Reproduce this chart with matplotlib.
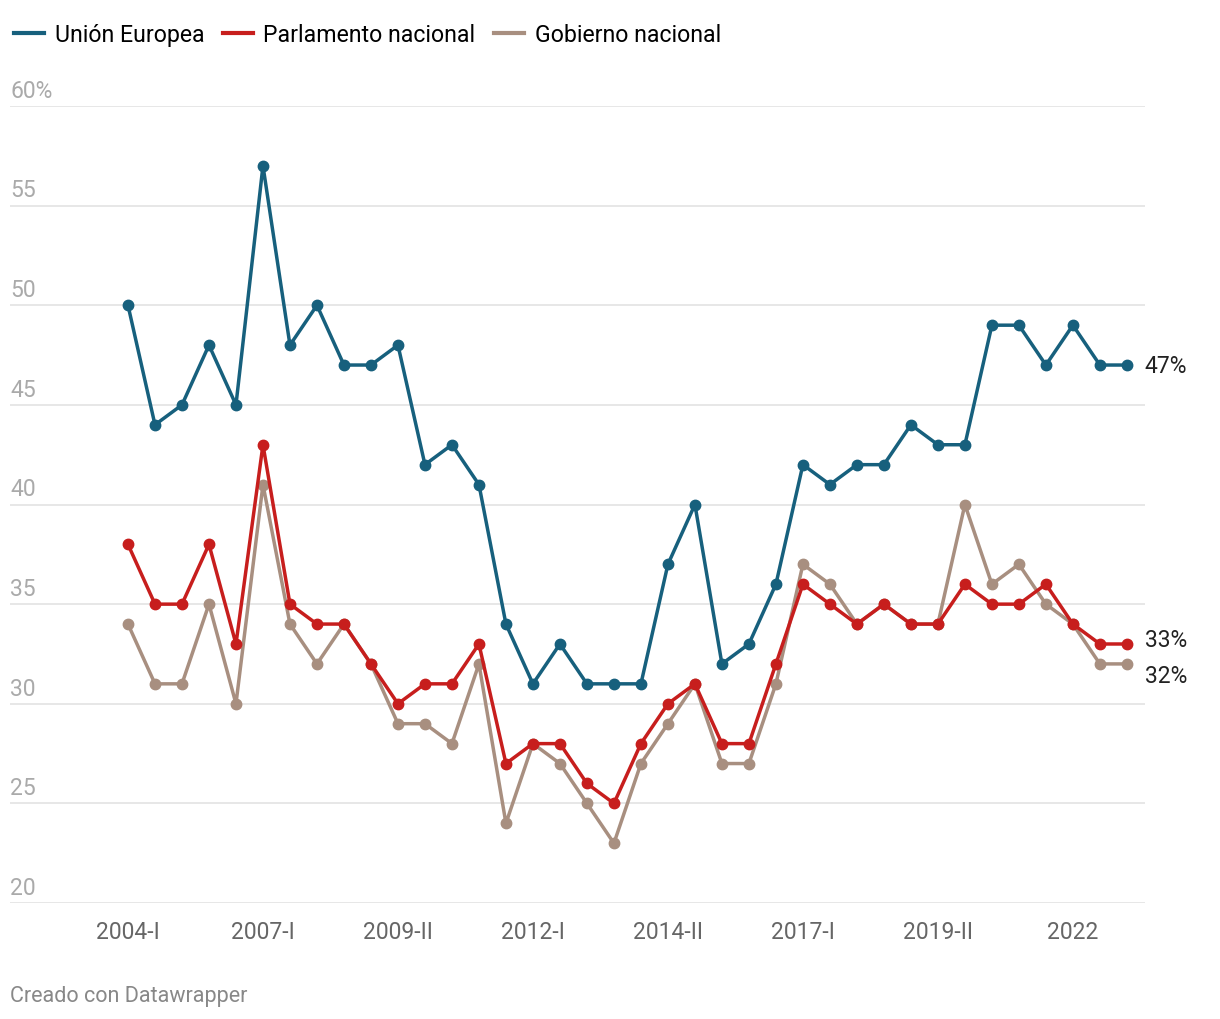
import matplotlib
matplotlib.use('agg')
import matplotlib.pyplot as plt
from matplotlib.lines import Line2D
from matplotlib.transforms import offset_copy

plt.rcParams['font.family'] = ['Roboto', 'DejaVu Sans']

# confianza en instituciones (%), 38 oleadas
union_europea = [50, 44, 45, 48, 45, 57, 48, 50, 47, 47, 48, 42, 43, 41, 34, 31, 33, 31, 31, 31,
                 37, 40, 32, 33, 36, 42, 41, 42, 42, 44, 43, 43, 49, 49, 47, 49, 47, 47]
parlamento = [38, 35, 35, 38, 33, 43, 35, 34, 34, 32, 30, 31, 31, 33, 27, 28, 28, 26, 25, 28,
              30, 31, 28, 28, 32, 36, 35, 34, 35, 34, 34, 36, 35, 35, 36, 34, 33, 33]
gobierno = [34, 31, 31, 35, 30, 41, 34, 32, 34, 32, 29, 29, 28, 32, 24, 28, 27, 25, 23, 27,
            29, 31, 27, 27, 31, 37, 36, 34, 35, 34, 34, 40, 36, 37, 35, 34, 32, 32]
tick_labels = ['2004-I', '2007-I', '2009-II', '2012-I', '2014-II', '2017-I', '2019-II', '2022']
y_ticks = [20, 25, 30, 35, 40, 45, 50, 55, 60]

series = [
    {'data': union_europea, 'color': '#17607d', 'legend': 'Unión Europea', 'dy': 0},
    {'data': parlamento, 'color': '#c71e1d', 'legend': 'Parlamento nacional', 'dy': 3},
    {'data': gobierno, 'color': '#a88f80', 'legend': 'Gobierno nacional', 'dy': -8},
]

fig = plt.figure(figsize=(12.2, 10.2), dpi=100)
ax = fig.add_axes([0.0082, 0.1137, 0.9303, 0.7814])

x = list(range(len(union_europea)))
# dibujar de abajo hacia arriba: gobierno, parlamento, UE
for s in reversed(series):
    ax.plot(x, s['data'], '-o', color=s['color'], lw=2.5, ms=7.5, zorder=3)
    trans = offset_copy(ax.transData, fig=fig, x=13, y=s['dy'], units='points')
    ax.text(x[-1], s['data'][-1], '{}%'.format(s['data'][-1]), transform=trans,
            ha='left', va='center', fontsize=16.5, color='#222222')

ax.set_xlim(-4.37, len(x) - 1 + 0.67)
ax.set_ylim(20, 60)

# grid
for yv in y_ticks:
    ax.axhline(yv, color='#e3e3e3', lw=1.2, zorder=1)
    lbl = '{}%'.format(yv) if yv == 60 else str(yv)
    trans = offset_copy(ax.get_yaxis_transform(), fig=fig, x=0, y=3, units='points')
    ax.text(0, yv, lbl, transform=trans, ha='left', va='bottom', fontsize=16.5, color='#aaaaaa')

ax.set_yticks([])
ax.set_xticks(list(range(0, len(x), 5)))
ax.set_xticklabels(tick_labels, fontsize=16.5, color='#666666')
ax.tick_params(axis='x', length=0, pad=12)
for spine in ['top', 'right', 'left', 'bottom']:
    ax.spines[spine].set_visible(False)

handles = [Line2D([0], [0], color=s['color'], lw=3) for s in series]
fig.legend(handles, [s['legend'] for s in series], loc='upper left', bbox_to_anchor=(0.0, 0.99),
           ncol=3, frameon=False, fontsize=16.7, handlelength=1.3, handletextpad=0.45,
           columnspacing=0.8, borderaxespad=0.2)

fig.text(0.0082, 0.013, 'Creado con Datawrapper', fontsize=15.5, color='#888888', ha='left', va='bottom')

fig.savefig('out.png', dpi=100)
